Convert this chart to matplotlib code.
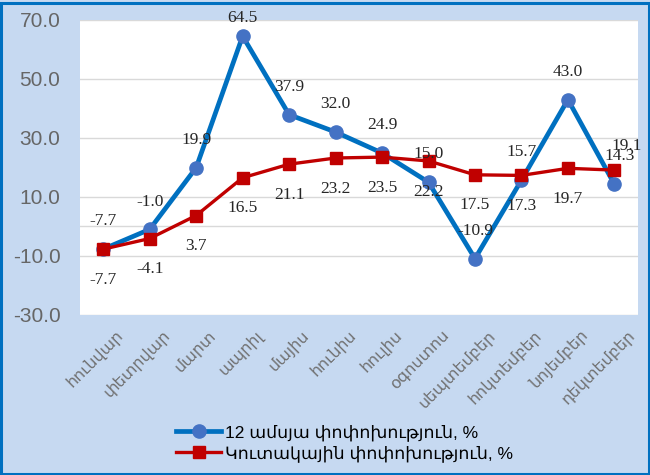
import matplotlib
matplotlib.use("Agg")
import matplotlib.pyplot as plt
from matplotlib.patches import Rectangle
from matplotlib.transforms import ScaledTranslation

# Data
months = ["հունվար", "փետրվար", "մարտ", "ապրիլ", "մայիս", "հունիս",
          "հուլիս", "օգոստոս", "սեպտեմբեր", "հոկտեմբեր", "նոյեմբեր", "դեկտեմբեր"]
annual_change = [-7.7, -1.0, 19.9, 64.5, 37.9, 32.0, 24.9, 15.0, -10.9, 15.7, 43.0, 14.3]
cumulative_change = [-7.7, -4.1, 3.7, 16.5, 21.1, 23.2, 23.5, 22.2, 17.5, 17.3, 19.7, 19.1]
annual_label = "12 ամսյա փոփոխություն, %"
cumulative_label = "Կուտակային փոփոխություն, %"
y_ticks = [-30, -10, 10, 30, 50, 70]

sans = ["Liberation Sans", "DejaVu Sans"]
serif = ["Liberation Serif", "DejaVu Serif"]
gray = "#666666"

fig = plt.figure(figsize=(6.5, 4.75), dpi=100)
fig.patch.set_facecolor("#C6D9F1")
# border around the chart
fig.patches.append(Rectangle((0.002, 0.002), 0.996, 0.992, transform=fig.transFigure,
                             fill=False, edgecolor="#0070C0", linewidth=2.2))

ax = fig.add_axes([0.123, 0.337, 0.858, 0.621])
ax.set_facecolor("white")
x = list(range(len(months)))

ax.plot(x, annual_change, color="#0070C0", linewidth=3.4, marker="o", markersize=9.5,
        markerfacecolor="#4472C4", markeredgecolor="#4472C4", label=annual_label, zorder=3)
ax.plot(x, cumulative_change, color="#C00000", linewidth=2.4, marker="s", markersize=8.5,
        markerfacecolor="#C00000", markeredgecolor="#C00000", label=cumulative_label, zorder=4)

# data labels: blue above, red below
for i, v in enumerate(annual_change):
    dx, dy = 0, 20
    if v == 64.5:
        dy = 13
    if i == 11:
        dx = 4
    ax.annotate(f"{v:.1f}", (i, v), xytext=(dx, dy), textcoords="offset points",
                ha="center", va="center", fontsize=12.5, color="#262626", family=serif,
                annotation_clip=False, zorder=5)
for i, v in enumerate(cumulative_change):
    dx, dy = 0, -22
    if i == 11:
        dx, dy = 9, 17
    ax.annotate(f"{v:.1f}", (i, v), xytext=(dx, dy), textcoords="offset points",
                ha="center", va="center", fontsize=12.5, color="#262626", family=serif,
                annotation_clip=False, zorder=5)

ax.set_xlim(-0.5, len(months) - 0.5)
ax.set_ylim(-30, 70)
ax.set_yticks(y_ticks)
ax.set_yticklabels([f"{t:.1f}" for t in y_ticks], fontsize=15, color=gray, family=sans)
ax.tick_params(axis="y", length=0, pad=14)
ax.grid(axis="y", color="#D9D9D9", linewidth=1)
ax.axhline(0, color="#D9D9D9", linewidth=1, zorder=1)
ax.set_axisbelow(True)
for s in ax.spines.values():
    s.set_visible(False)

ax.set_xticks(x)
ax.set_xticklabels(months, rotation=45, ha="right", va="center", rotation_mode="anchor",
                   fontsize=11.5, color="#707070", family=sans)
ax.tick_params(axis="x", length=0, pad=13)
shift = ScaledTranslation(18 / 100, 0, fig.dpi_scale_trans)
for lab in ax.get_xticklabels():
    lab.set_transform(lab.get_transform() + shift)

leg = fig.legend(loc="center", frameon=False, prop={"family": sans, "size": 12.5},
                 handlelength=2.6, handletextpad=0.2, labelspacing=0.25)
leg.set_bbox_to_anchor((0.53, 0.068), transform=fig.transFigure)

fig.savefig("out.png", dpi=100, facecolor=fig.get_facecolor())
